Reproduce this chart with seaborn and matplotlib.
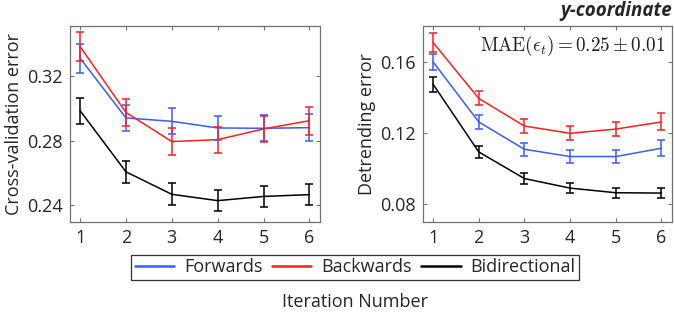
import numpy as np
import pandas as pd
import seaborn as sns
import matplotlib
matplotlib.use("Agg")
import matplotlib.pyplot as plt

sns.set_theme(style="white")
plt.rcParams['font.family'] = ['Open Sans', 'DejaVu Sans']
plt.rcParams['mathtext.fontset'] = 'cm'

iterations = [1, 2, 3, 4, 5, 6]
methods = ["Forwards", "Backwards", "Bidirectional"]
colors = {"Forwards": "#3a5cff", "Backwards": "#ff1f1f", "Bidirectional": "#000000"}

# Cross-validation error (left)
cv_forwards = [0.3309, 0.2940, 0.2919, 0.2878, 0.2876, 0.2880]
cv_forwards_err = [0.0089, 0.0079, 0.0080, 0.0076, 0.0080, 0.0083]
cv_backwards = [0.3381, 0.2974, 0.2794, 0.2806, 0.2872, 0.2923]
cv_backwards_err = [0.0092, 0.0083, 0.0082, 0.0080, 0.0080, 0.0087]
cv_bidir = [0.2985, 0.2607, 0.2468, 0.2429, 0.2455, 0.2466]
cv_bidir_err = [0.0081, 0.0067, 0.0067, 0.0066, 0.0066, 0.0067]

# Detrending error (right)
dt_forwards = [0.1602, 0.1263, 0.1109, 0.1068, 0.1068, 0.1115]
dt_forwards_err = [0.0046, 0.0037, 0.0038, 0.0039, 0.0039, 0.0046]
dt_backwards = [0.1711, 0.1396, 0.1240, 0.1199, 0.1223, 0.1263]
dt_backwards_err = [0.0052, 0.0040, 0.0040, 0.0040, 0.0041, 0.0048]
dt_bidir = [0.1476, 0.1094, 0.0944, 0.0890, 0.0864, 0.0862]
dt_bidir_err = [0.0042, 0.0032, 0.0030, 0.0029, 0.0028, 0.0028]

def make_df(vals, errs):
    rows = []
    for m, v, e in zip(methods, vals, errs):
        for it, vv, ee in zip(iterations, v, e):
            rows.append({"Iteration": it, "Method": m, "value": vv, "err": ee})
    return pd.DataFrame(rows)

df_cv = make_df([cv_forwards, cv_backwards, cv_bidir],
                [cv_forwards_err, cv_backwards_err, cv_bidir_err])
df_dt = make_df([dt_forwards, dt_backwards, dt_bidir],
                [dt_forwards_err, dt_backwards_err, dt_bidir_err])

fig = plt.figure(figsize=(6.74, 3.15), dpi=100)
W, H = 674, 315
ax1 = fig.add_axes([70 / W, 1 - 222 / H, 250 / W, 196 / H])
ax2 = fig.add_axes([423 / W, 1 - 222 / H, 249 / W, 196 / H])

frame_col = "#707070"
fs = 13

def draw(ax, df, ylim, yticks, ylabel):
    sns.lineplot(data=df, x="Iteration", y="value", hue="Method",
                 palette=colors, hue_order=methods, ax=ax, linewidth=1.1,
                 legend=False)
    for m in methods:
        d = df[df.Method == m]
        ax.errorbar(d.Iteration, d.value, yerr=d.err, fmt="none",
                    ecolor=colors[m], elinewidth=1.1, capsize=2.8, capthick=1.1)
    ax.set_xlim(0.78, 6.23)
    ax.set_ylim(*ylim)
    ax.set_xticks(iterations)
    ax.set_yticks(yticks)
    ax.set_yticklabels([f"{t:.2f}" for t in yticks])
    ax.set_xlabel("")
    ax.set_ylabel(ylabel, fontsize=fs, labelpad=3)
    ax.tick_params(direction="in", length=3, width=0.8, color=frame_col,
                   labelsize=fs, top=True, right=True, bottom=True, left=True,
                   pad=5)
    for s in ax.spines.values():
        s.set_color(frame_col)
        s.set_linewidth(0.9)

draw(ax1, df_cv, (0.2297, 0.3508), [0.24, 0.28, 0.32], "Cross-validation error")
draw(ax2, df_dt, (0.0699, 0.1804), [0.08, 0.12, 0.16], "Detrending error")

ax2.text(0.975, 0.9, r"$\mathrm{MAE}(\epsilon_t) = 0.25 \pm 0.01$",
         transform=ax2.transAxes, ha="right", va="center", fontsize=13.8,
         color="#222222")

fig.text(672 / W, 1 - 11 / H, "y-coordinate", ha="right", va="center",
         fontsize=13.5, fontweight="bold", fontstyle="italic")

from matplotlib.lines import Line2D
handles = [Line2D([], [], color=colors[m], linewidth=1.8) for m in methods]
leg = fig.legend(handles, methods, loc="center", ncol=3,
                 bbox_to_anchor=(355 / W, 1 - 267.5 / H), fontsize=fs,
                 frameon=True, fancybox=False, edgecolor="black",
                 handlelength=2.2, handletextpad=0.55, columnspacing=0.5,
                 borderpad=0.2, borderaxespad=0)
leg.get_frame().set_linewidth(0.9)

fig.text(355 / W, 1 - 302 / H, "Iteration Number", ha="center", va="center",
         fontsize=fs)

fig.savefig("out.png", dpi=100)
